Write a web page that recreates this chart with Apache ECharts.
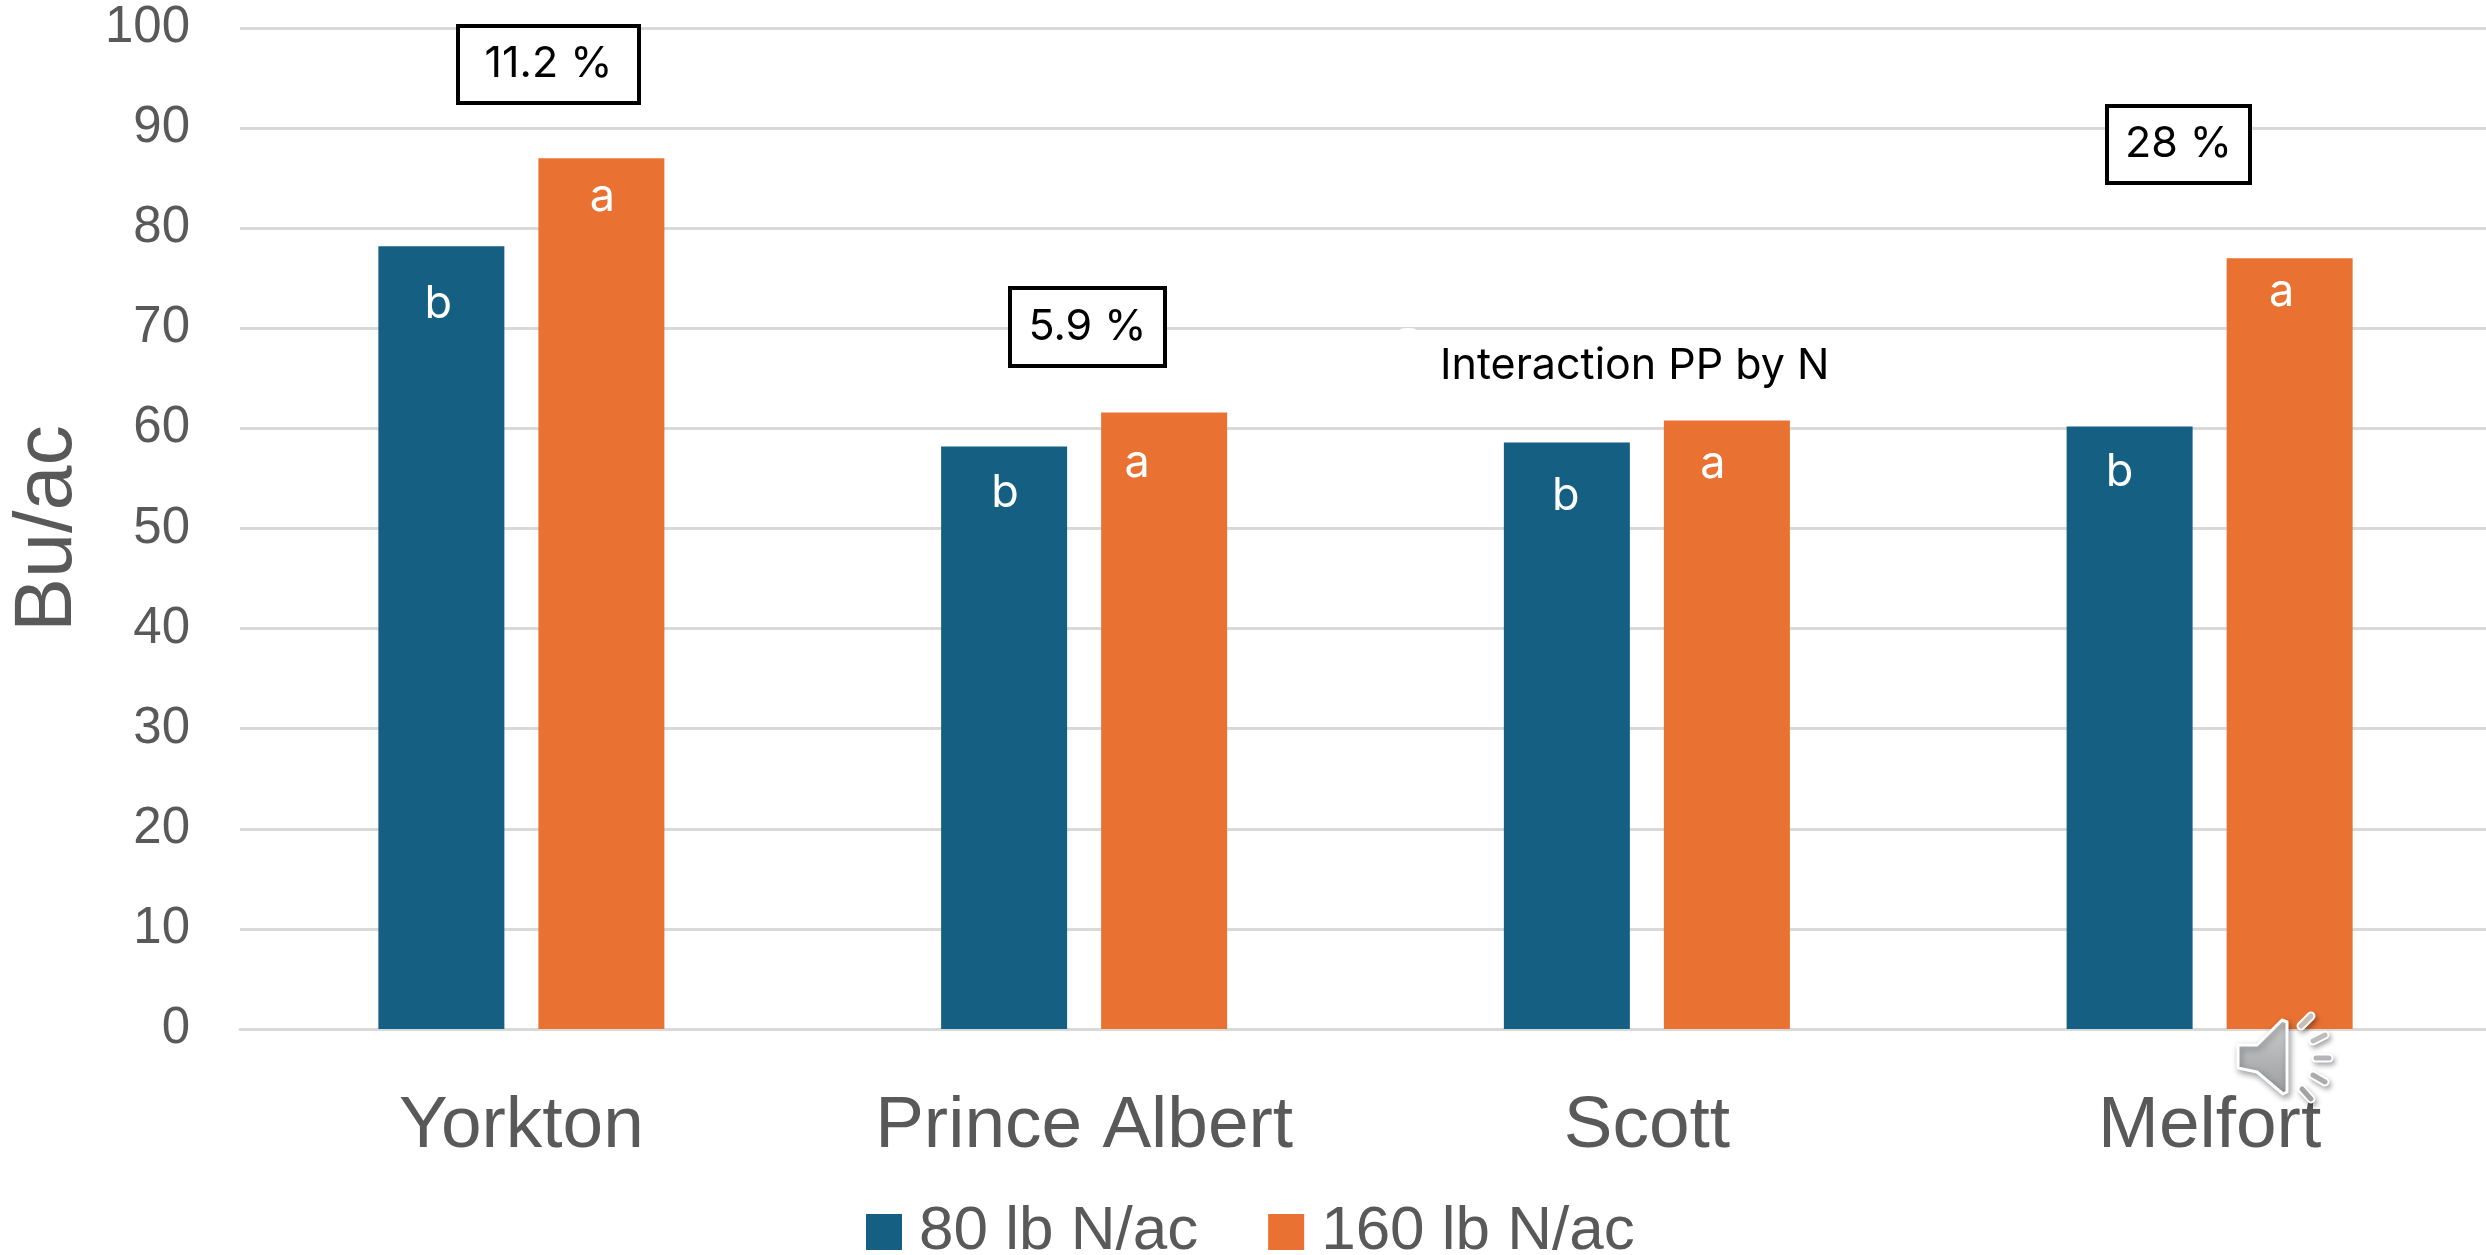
<!DOCTYPE html>
<html>
<head>
<meta charset="utf-8">
<style>html,body{margin:0;padding:0;background:#fff}#chart{width:2486px;height:1255px}</style>
<script src="https://cdn.jsdelivr.net/npm/echarts@6/dist/echarts.min.js"></script>
</head>
<body>
<div id="chart"></div>
<script>
// Yield by site under two nitrogen rates
const sites = ['Yorkton', 'Prince Albert', 'Scott', 'Melfort'];
const yield80 = [78.2, 58.2, 58.6, 60.2];
const yield160 = [87.0, 61.6, 60.8, 77.0];
const letters80 = ['b', 'b', 'b', 'b'];
const letters160 = ['a', 'a', 'a', 'a'];
const seriesNames = ['80 lb N/ac', '160 lb N/ac'];
const yTicks = { min: 0, max: 100, interval: 10 };

// Hand-placed letter offsets inside the bars: [dx, dy] from the top centre
const letterOffset80 = [[-3, 36], [1, 25], [-1, 32], [-10, 24]];
const letterOffset160 = [[1, 17], [-27, 29], [-14, 22], [-8, 12]];

const GREY = '#595959';
const BLUE = '#156082';
const ORANGE = '#E97132';

function barData(values, letters, offsets) {
  return values.map((v, i) => ({
    value: v,
    label: { formatter: letters[i], offset: offsets[i] }
  }));
}

function barSeries(name, values, letters, offsets, color) {
  return {
    name, type: 'bar', barWidth: 126, barGap: '27%',
    itemStyle: { color },
    label: {
      show: true, position: 'insideTop', distance: 0, color: '#fff',
      fontFamily: 'Inter', fontSize: 45
    },
    data: barData(values, letters, offsets)
  };
}

// Percent-response callout: white box, black outline, centred text
function callout(text, x, y, w, h) {
  return {
    type: 'group', x, y,
    children: [
      { type: 'rect', z: 50, shape: { x: 0, y: 0, width: w, height: h },
        style: { fill: '#fff', stroke: '#000', lineWidth: 4 } },
      { type: 'text', z: 51, x: w / 2, y: h / 2,
        style: { text, fill: '#000', font: '43px Inter', align: 'center', verticalAlign: 'middle' } }
    ]
  };
}

// Audio badge sitting over the lower-right corner of the plot
const rayShadow = { shadowBlur: 5, shadowColor: 'rgba(0,0,0,0.35)', shadowOffsetX: 2, shadowOffsetY: 3 };
function ray(x1, y1, x2, y2, shade) {
  return [
    { type: 'line', z: 60, shape: { x1, y1, x2, y2 },
      style: { stroke: '#fff', lineWidth: 9, lineCap: 'round', ...rayShadow } },
    { type: 'line', z: 61, shape: { x1, y1, x2, y2 },
      style: { stroke: shade, lineWidth: 5, lineCap: 'round' } }
  ];
}
const speaker = [
  { type: 'polygon', z: 60,
    shape: { points: [[2238, 1045], [2257, 1045], [2282, 1020], [2287, 1022], [2287, 1092], [2283, 1094], [2257, 1072], [2238, 1068]] },
    style: {
      stroke: '#fff', lineWidth: 3, lineJoin: 'round',
      fill: new echarts.graphic.LinearGradient(0, 0, 0, 1, [
        { offset: 0, color: 'rgba(205,206,208,0.95)' },
        { offset: 1, color: '#9b9c9e' }
      ]),
      shadowBlur: 6, shadowColor: 'rgba(0,0,0,0.35)', shadowOffsetX: 2, shadowOffsetY: 3
    } },
  ...ray(2301, 1026, 2311, 1016, '#c9bdb5'),
  ...ray(2313, 1041, 2325, 1035, '#bcbdbf'),
  ...ray(2316, 1058, 2329, 1058, '#b4b5b7'),
  ...ray(2313, 1075, 2325, 1082, '#abacae'),
  ...ray(2302, 1089, 2311, 1099, '#a2a3a5')
];

const chart = echarts.init(document.getElementById('chart'), null, { renderer: 'canvas' });
chart.setOption({
  animation: false,
  backgroundColor: '#fff',
  textStyle: { fontFamily: 'Liberation Sans' },
  grid: { left: 240, top: 28, width: 2251, height: 1001, containLabel: false, outerBoundsMode: 'none' },
  legend: {
    left: 861, top: 1196, itemWidth: 36, itemHeight: 36, itemGap: 70,
    icon: 'rect', data: seriesNames,
    textStyle: { color: GREY, fontSize: 62, fontFamily: 'Liberation Sans', padding: [2, 0, 0, 12] }
  },
  xAxis: {
    type: 'category', data: sites,
    axisLine: { lineStyle: { color: '#D9D9D9', width: 3 } },
    axisTick: { show: false },
    axisLabel: { color: GREY, fontSize: 73, margin: 61, fontFamily: 'Liberation Sans' }
  },
  yAxis: {
    type: 'value', min: yTicks.min, max: yTicks.max, interval: yTicks.interval,
    name: 'Bu/ac', nameLocation: 'middle', nameGap: 151,
    nameTextStyle: { color: GREY, fontSize: 81, fontFamily: 'Liberation Sans' },
    axisLine: { show: false }, axisTick: { show: false },
    axisLabel: { color: GREY, fontSize: 51, margin: 50, padding: [6, 0, 0, 0], fontFamily: 'Liberation Sans' },
    splitLine: { lineStyle: { color: '#D9D9D9', width: 3 } }
  },
  series: [
    barSeries(seriesNames[0], yield80, letters80, letterOffset80, BLUE),
    barSeries(seriesNames[1], yield160, letters160, letterOffset160, ORANGE)
  ],
  graphic: [
    callout('11.2 %', 458, 26, 181, 77),
    callout('5.9 %', 1010, 288, 155, 78),
    callout('28 %', 2107, 106, 143, 77),
    { type: 'text', x: 1440, y: 366, z: 50,
      style: { text: 'Interaction PP by N', fill: '#000', font: '43px Inter', align: 'left', verticalAlign: 'middle' } },
    // Small white nick on the 70 gridline
    { type: 'ellipse', z: 49, shape: { cx: 1408, cy: 330, rx: 8, ry: 2 }, style: { fill: '#fff' } },
    ...speaker
  ]
});
</script>
</body>
</html>
